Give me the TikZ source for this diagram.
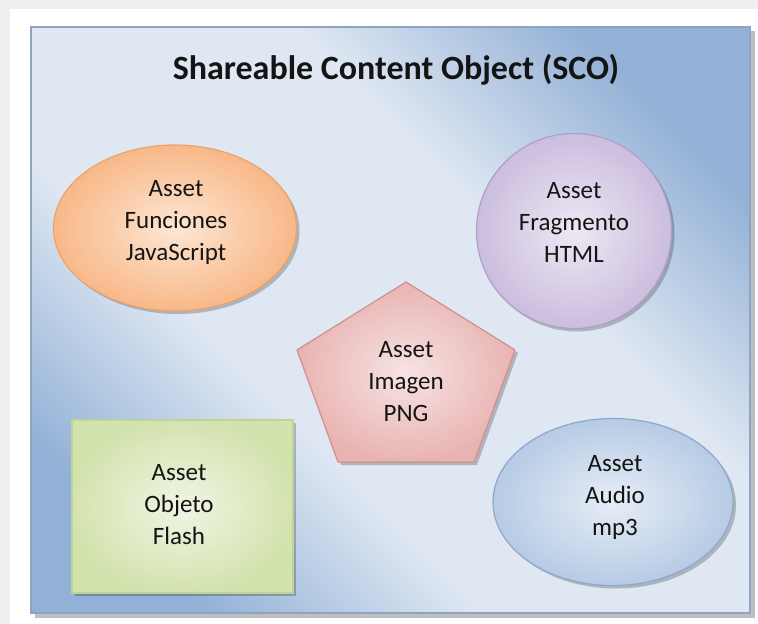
\documentclass[tikz,border=0pt]{standalone}
\usepackage{fontspec}
\setmainfont{Carlito}
\usetikzlibrary{shapes.geometric,shadows}
\definecolor{pagegray}{HTML}{EFEFEF}
\definecolor{boxdark}{HTML}{93B1D6}
\definecolor{boxlight}{HTML}{DEE7F2}
\definecolor{boxedge}{HTML}{8FA4C2}
\definecolor{orIn}{HTML}{FDE6D3}
\definecolor{orOut}{HTML}{F8B888}
\definecolor{orEdge}{HTML}{EBA26B}
\definecolor{puIn}{HTML}{EEE8F4}
\definecolor{puOut}{HTML}{CBBDDE}
\definecolor{puEdge}{HTML}{B09FC6}
\definecolor{reIn}{HTML}{F7E3E2}
\definecolor{reOut}{HTML}{E8B4B3}
\definecolor{reEdge}{HTML}{D48E8C}
\definecolor{grIn}{HTML}{F0F5E4}
\definecolor{grOut}{HTML}{D3E3AE}
\definecolor{grEdge}{HTML}{BFD396}
\definecolor{blIn}{HTML}{E6EDF6}
\definecolor{blOut}{HTML}{B7CBE5}
\definecolor{blEdge}{HTML}{8FA7CA}
\pgfdeclareverticalshading{scoshade}{100bp}{color(0bp)=(boxdark); color(24bp)=(boxdark); color(39bp)=(boxlight); color(61bp)=(boxlight); color(76bp)=(boxdark); color(100bp)=(boxdark)}
\tikzset{
  assetshadow/.style={drop shadow={shadow xshift=3pt,shadow yshift=-3pt,opacity=0.22,fill=black}},
  assetshape/.style={line width=1.2pt,inner sep=0pt,shading=radial,assetshadow},
  assettext/.style={align=center,font=\fontsize{25}{32}\selectfont,text=black!92,inner sep=0pt},
  titletext/.style={font=\fontsize{34}{40}\selectfont\bfseries,text=black!92,inner sep=0pt}
}
\begin{document}
\begin{tikzpicture}[x=1pt,y=-1pt]
\useasboundingbox (0,0) rectangle (758,624);
\fill[pagegray] (0,0) rectangle (758,624);
\fill[white] (10,9) rectangle (758,624);
% SCO box
\fill[black,opacity=0.25] (35,31) rectangle (755,618);
\shade[shading=scoshade,shading angle=-45] (31,27) rectangle (750,613);
\draw[boxedge,line width=1.5pt] (31,27) rectangle (750,613);
\node[titletext] (title) at (396,70) {Shareable Content Object (SCO)};
% Orange ellipse
\node[ellipse,assetshape,inner color=orIn,outer color=orOut,draw=orEdge,
  minimum width=243pt,minimum height=166pt] (js) at (175,228) {};
\node[assettext] (jstext) at (176,222) {Asset\\Funciones\\JavaScript};
% Purple circle
\node[ellipse,assetshape,inner color=puIn,outer color=puOut,draw=puEdge,
  minimum width=195pt,minimum height=195pt] (html) at (574,231) {};
\node[assettext] (htmltext) at (574,222) {Asset\\Fragmento\\HTML};
% Pentagon
\coordinate (p1) at (406,282);
\coordinate (p2) at (515,350);
\coordinate (p3) at (474,462);
\coordinate (p4) at (338,462);
\coordinate (p5) at (297,350);
\path[assetshape,inner color=reIn,outer color=reOut,draw=reEdge,line join=round]
  (p1) -- (p2) -- (p3) -- (p4) -- (p5) -- cycle;
\node[assettext] (pngtext) at (406,382) {Asset\\Imagen\\PNG};
% Green rectangle
\node[rectangle,assetshape,inner color=grIn,outer color=grOut,draw=grEdge,
  minimum width=221pt,minimum height=173pt] (flash) at (182.5,506.5) {};
\node[assettext] (flashtext) at (179,505) {Asset\\Objeto\\Flash};
% Blue ellipse
\node[ellipse,assetshape,inner color=blIn,outer color=blOut,draw=blEdge,
  minimum width=240pt,minimum height=167pt] (mp3) at (613,502) {};
\node[assettext] (mp3text) at (615,497) {Asset\\Audio\\mp3};
\end{tikzpicture}
\end{document}
